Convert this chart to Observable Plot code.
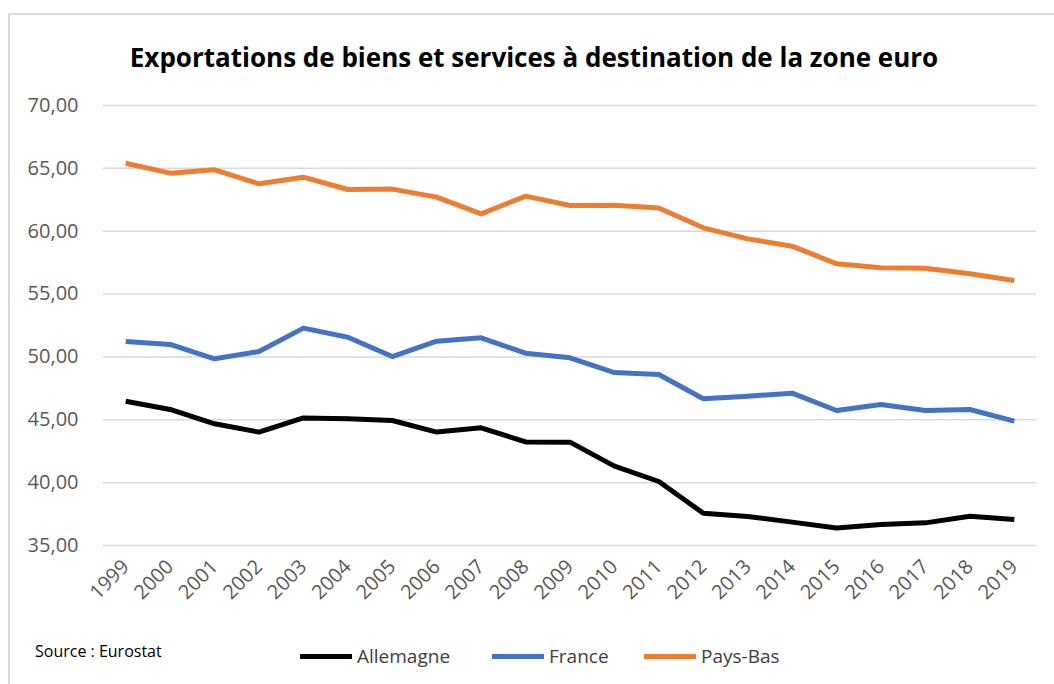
<!DOCTYPE html>
<html>
<head>
<meta charset="utf-8">
<script src="https://cdn.jsdelivr.net/npm/d3@7"></script>
<script src="https://cdn.jsdelivr.net/npm/@observablehq/plot@0.6"></script>
<style>
  html, body { margin: 0; padding: 0; background: #fff; }
  #wrap { position: relative; width: 1054px; height: 684px; overflow: hidden; font-family: "Open Sans", sans-serif; }
  #frame { position: absolute; left: 8px; top: 13px; width: 1100px; height: 700px; border: 2px solid #d9d9d9; box-sizing: border-box; }
  #title { position: absolute; left: 0; width: 1068px; top: 39px; text-align: center; font-weight: 700; font-size: 26px; color: #000; line-height: 36px; }
  #chart { position: absolute; left: 0; top: 0; }
  .src { position: absolute; left: 35px; top: 639px; font-size: 16px; color: #000; line-height: 24px; }
  .leg { position: absolute; top: 642px; display: flex; align-items: center; font-size: 19px; color: #404040; line-height: 28px; }
  .sw { width: 52px; height: 5px; margin-right: 5px; }
</style>
</head>
<body>
<div id="wrap">
  <div id="frame"></div>
  <div id="chart"></div>
  <div id="title">Exportations de biens et services à destination de la zone euro</div>
  <div class="src">Source : Eurostat</div>
  <div id="legend"></div>
</div>
<script>
const years = [1999,2000,2001,2002,2003,2004,2005,2006,2007,2008,2009,2010,2011,2012,2013,2014,2015,2016,2017,2018,2019];
const allemagne = [46.48,45.82,44.68,44.02,45.15,45.08,44.94,44.02,44.36,43.24,43.22,41.31,40.09,37.57,37.31,36.86,36.40,36.67,36.80,37.33,37.07];
const france = [51.23,50.99,49.85,50.43,52.29,51.57,50.03,51.25,51.52,50.30,49.93,48.76,48.60,46.67,46.88,47.12,45.74,46.22,45.74,45.82,44.89];
const paysBas = [65.41,64.62,64.88,63.77,64.30,63.32,63.35,62.71,61.38,62.79,62.05,62.07,61.84,60.27,59.39,58.81,57.41,57.09,57.06,56.61,56.08];
const seriesNames = ["Allemagne", "France", "Pays-Bas"];
const seriesColors = ["#000000", "#4472C4", "#ED7D31"];
const yTicks = [35,40,45,50,55,60,65,70];

const seriesValues = [allemagne, france, paysBas];
const data = [];
seriesNames.forEach((name, i) => {
  years.forEach((yr, j) => data.push({year: yr, value: seriesValues[i][j], pays: name}));
});

const fmt = v => d3.format(".2f")(v).replace(".", ",");

const chart = Plot.plot({
  width: 1054,
  height: 600,
  marginTop: 105,
  marginBottom: 55,
  marginLeft: 103,
  marginRight: 18,
  style: { fontFamily: "Open Sans, sans-serif", fontSize: "20px", background: "transparent", overflow: "visible" },
  x: { type: "linear", domain: [years[0] - 0.5, years[years.length - 1] + 0.5] },
  y: { domain: [35, 70] },
  color: { domain: seriesNames, range: seriesColors },
  marks: [
    Plot.gridY(yTicks, { stroke: "#d9d9d9", strokeOpacity: 1, strokeWidth: 1.5 }),
    Plot.axisY(yTicks, { tickSize: 0, tickPadding: 25, tickFormat: fmt, fill: "#595959", fontSize: 20, label: null }),
    Plot.axisX(years, { tickSize: 0, tickPadding: 18, tickRotate: -45, tickFormat: d => String(d), fill: "#595959", fontSize: 20, label: null }),
    Plot.line(data, { x: "year", y: "value", z: "pays", stroke: "pays", strokeWidth: 5, strokeLinejoin: "round", strokeLinecap: "butt" })
  ]
});
document.getElementById("chart").appendChild(chart);

const legendPos = [300, 492, 644];
const legend = document.getElementById("legend");
seriesNames.forEach((name, i) => {
  const item = document.createElement("div");
  item.className = "leg";
  item.style.left = legendPos[i] + "px";
  const sw = document.createElement("div");
  sw.className = "sw";
  sw.style.background = seriesColors[i];
  const t = document.createElement("span");
  t.textContent = name;
  item.appendChild(sw);
  item.appendChild(t);
  legend.appendChild(item);
});
</script>
</body>
</html>
